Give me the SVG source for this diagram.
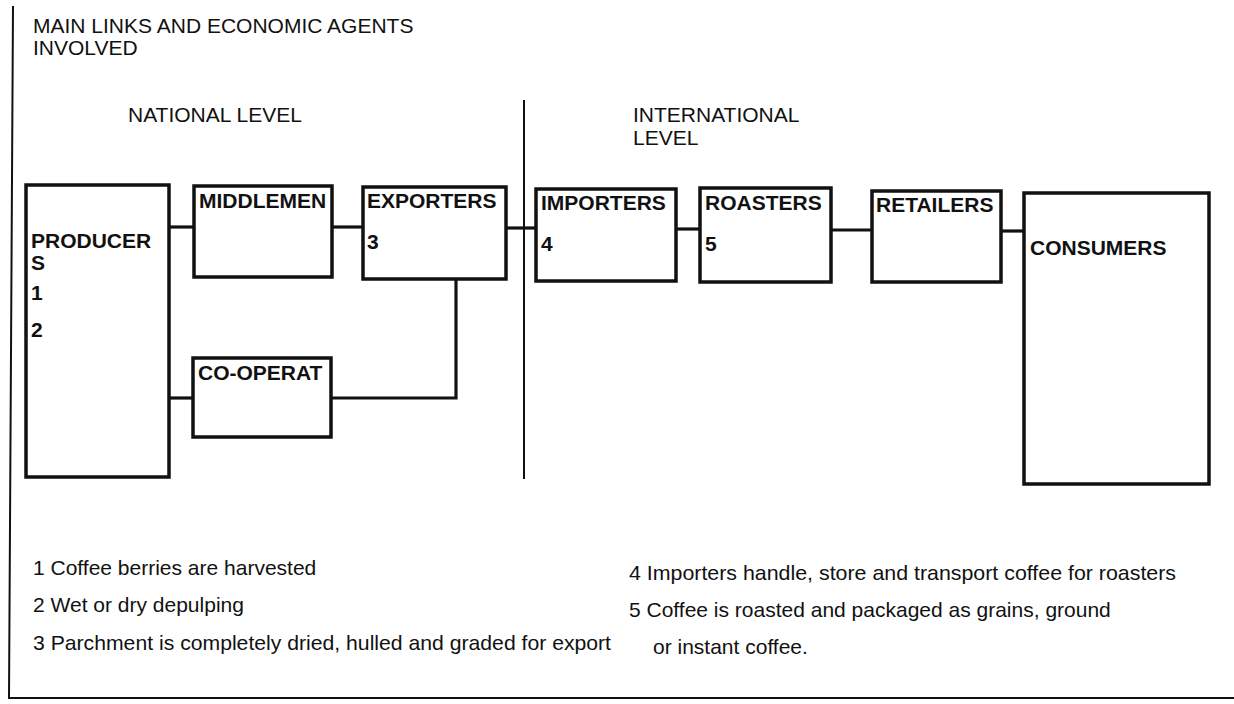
<svg xmlns="http://www.w3.org/2000/svg" width="1234" height="704" viewBox="0 0 1234 704">
<style>
.box{fill:#fff;stroke:#111;stroke-width:3.5}
.con{fill:none;stroke:#111;stroke-width:3.2}
.thin{fill:none;stroke:#111;stroke-width:2}
.t{font-family:"Liberation Sans",Arial,sans-serif;font-size:21px;fill:#111}
.b{font-family:"Liberation Sans",Arial,sans-serif;font-size:21px;font-weight:bold;fill:#111}
</style>
<rect width="1234" height="704" fill="#fff"/>
<g id="frame">
<path class="thin" d="M13 6 L9 698 L1234 698"/>
<line class="thin" x1="524" y1="100" x2="524" y2="479"/>
</g>
<g id="headings">
<text class="t" x="33" y="33">MAIN LINKS AND ECONOMIC AGENTS</text>
<text class="t" x="33" y="55">INVOLVED</text>
<text class="t" x="128" y="122">NATIONAL LEVEL</text>
<text class="t" x="633" y="122">INTERNATIONAL</text>
<text class="t" x="633" y="145">LEVEL</text>
</g>
<g id="connectors">
<line class="con" x1="169" y1="227" x2="194" y2="227"/>
<line class="con" x1="169" y1="398" x2="193" y2="398"/>
<line class="con" x1="332" y1="227" x2="363" y2="227"/>
<path class="con" d="M456 279 V398 H331"/>
<line class="con" x1="506" y1="228" x2="536" y2="228"/>
<line class="con" x1="676" y1="229" x2="700" y2="229"/>
<line class="con" x1="831" y1="230" x2="872" y2="230"/>
<line class="con" x1="1001" y1="231" x2="1024" y2="231"/>
</g>
<g id="producers">
<rect class="box" x="26" y="185" width="143" height="292"/>
<text class="b" x="31" y="248">PRODUCER</text>
<text class="b" x="31" y="270">S</text>
<text class="b" x="31" y="300">1</text>
<text class="b" x="31" y="337">2</text>
</g>
<g id="middlemen">
<rect class="box" x="194" y="186" width="138" height="91"/>
<text class="b" x="199" y="208">MIDDLEMEN</text>
</g>
<g id="cooperat">
<rect class="box" x="193" y="358" width="138" height="79"/>
<text class="b" x="198" y="380">CO-OPERAT</text>
</g>
<g id="exporters">
<rect class="box" x="363" y="187" width="143" height="92"/>
<text class="b" x="367" y="208">EXPORTERS</text>
<text class="b" x="367" y="249">3</text>
</g>
<g id="importers">
<rect class="box" x="536" y="189" width="140" height="92"/>
<text class="b" x="541" y="210">IMPORTERS</text>
<text class="b" x="541" y="251">4</text>
</g>
<g id="roasters">
<rect class="box" x="700" y="188" width="131" height="94"/>
<text class="b" x="705" y="210">ROASTERS</text>
<text class="b" x="705" y="251">5</text>
</g>
<g id="retailers">
<rect class="box" x="872" y="191" width="129" height="91"/>
<text class="b" x="876" y="212">RETAILERS</text>
</g>
<g id="consumers">
<rect class="box" x="1024" y="193" width="185" height="291"/>
<text class="b" x="1030" y="255">CONSUMERS</text>
</g>
<g id="notes">
<text class="t" x="33" y="575">1 Coffee berries are harvested</text>
<text class="t" x="33" y="612">2 Wet or dry depulping</text>
<text class="t" x="33" y="650" textLength="578" lengthAdjust="spacingAndGlyphs">3 Parchment is completely dried, hulled and graded for export</text>
<text class="t" x="629" y="580" textLength="547" lengthAdjust="spacingAndGlyphs">4 Importers handle, store and transport coffee for roasters</text>
<text class="t" x="629" y="617">5 Coffee is roasted and packaged as grains, ground</text>
<text class="t" x="653" y="654">or instant coffee.</text>
</g>
</svg>
